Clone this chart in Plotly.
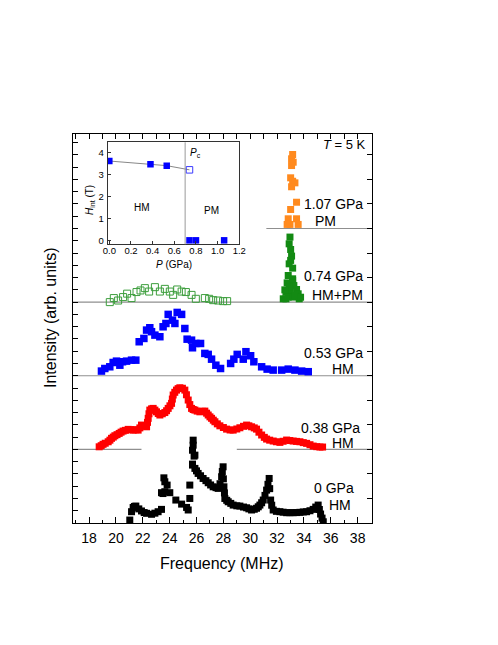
import plotly.graph_objects as go

# ---------------- data ----------------
# 0 GPa, HM (black)
f_0 = [21.03, 21.16, 21.28, 21.38, 21.48, 21.70, 21.90, 22.10, 22.28, 22.65, 22.90, 23.14, 23.39,
       23.39, 23.50, 23.64, 23.64, 23.57, 23.81, 24.01, 24.46, 24.89, 25.26, 25.38, 25.50, 25.50,
       25.70, 25.88, 25.70, 25.75, 25.75, 25.82, 25.70, 25.88, 26.00, 26.12, 26.30, 26.49, 26.70,
       26.87, 27.05, 27.24, 27.45, 27.61, 27.75, 27.87, 27.92, 27.98, 28.00, 28.04, 28.08, 28.11,
       28.25, 28.36, 28.55, 28.73, 29.00, 29.23, 29.50, 29.73, 29.90, 30.10, 30.30, 30.47, 30.60,
       30.72, 30.85, 30.97, 31.10, 31.22, 31.32, 31.41, 31.45, 31.52, 31.60, 31.71, 31.95, 32.21,
       32.45, 32.71, 32.95, 33.20, 33.45, 33.70, 33.95, 34.20, 34.45, 34.69, 34.88, 35.06, 35.15,
       35.24, 35.35, 35.44]
i_0 = [0.24, 0.92, 1.27, 1.35, 1.38, 1.15, 0.98, 0.85, 0.79, 0.71, 0.80, 0.92, 1.11,
       2.47, 2.40, 2.55, 3.36, 3.68, 3.09, 2.47, 1.87, 1.54, 1.27, 1.06, 2.00, 3.09,
       4.72, 5.53, 5.93, 6.34, 6.75, 5.45, 4.80, 4.45, 4.25, 4.04, 3.85, 3.63, 3.45,
       3.28, 3.10, 2.95, 2.88, 2.82, 3.20, 3.77, 4.20, 4.58, 3.60, 2.95, 2.45, 2.00,
       1.85, 1.73, 1.60, 1.46, 1.40, 1.38, 1.30, 1.24, 1.15, 1.06, 1.12, 1.20, 1.32,
       1.46, 1.65, 1.87, 2.25, 2.68, 3.15, 3.63, 2.80, 1.87, 1.45, 1.06, 0.95, 0.92,
       0.88, 0.84, 0.84, 0.84, 0.85, 0.87, 0.90, 0.92, 1.00, 1.11, 1.30, 1.46, 1.10,
       0.73, 0.40, 0.10]

# 0.38 GPa, HM (red)
f_038 = [18.75, 18.90, 19.04, 19.20, 19.42, 19.55, 19.67, 19.80, 19.92, 20.08, 20.24, 20.38, 20.53,
         20.70, 20.91, 21.10, 21.28, 21.45, 21.65, 21.78, 21.90, 22.05, 22.28, 22.35, 22.40, 22.46,
         22.52, 22.65, 22.77, 22.90, 23.02, 23.15, 23.27, 23.45, 23.64, 23.77, 23.89, 24.02, 24.14,
         24.20, 24.26, 24.38, 24.51, 24.63, 24.76, 24.95, 25.13, 25.25, 25.38, 25.50, 25.63, 25.75,
         25.88, 26.05, 26.25, 26.45, 26.62, 26.75, 26.87, 27.00, 27.12, 27.25, 27.37, 27.55, 27.74,
         28.00, 28.24, 28.50, 28.73, 29.00, 29.23, 29.50, 29.73, 29.90, 30.10, 30.30, 30.47, 30.65,
         30.85, 31.05, 31.22, 31.45, 31.71, 31.95, 32.21, 32.45, 32.71, 32.95, 33.20, 33.45, 33.70,
         33.95, 34.20, 34.45, 34.69, 34.95, 35.19, 35.39]
i_038 = [0.21, 0.30, 0.41, 0.50, 0.62, 0.75, 0.90, 1.00, 1.11, 1.20, 1.30, 1.40, 1.49,
         1.55, 1.63, 1.60, 1.57, 1.60, 1.57, 1.75, 1.98, 1.90, 1.84, 2.20, 2.53, 2.90,
         3.20, 3.30, 3.34, 3.20, 3.06, 2.92, 2.80, 2.90, 3.00, 3.15, 3.34, 3.55, 3.75,
         4.10, 4.43, 4.65, 4.83, 4.95, 5.02, 4.98, 4.83, 4.45, 4.02, 3.65, 3.34, 3.25,
         3.20, 3.12, 3.06, 3.10, 3.12, 2.95, 2.80, 2.65, 2.53, 2.38, 2.25, 2.08, 1.92,
         1.78, 1.65, 1.58, 1.57, 1.66, 1.76, 1.88, 1.98, 1.92, 1.84, 1.75, 1.65, 1.40,
         1.17, 0.98, 0.84, 0.75, 0.68, 0.62, 0.57, 0.66, 0.76, 0.72, 0.68, 0.65, 0.62,
         0.55, 0.49, 0.38, 0.27, 0.22, 0.19, 0.19]

# 0.53 GPa, HM (blue)
f_053 = [18.92, 19.17, 19.54, 19.79, 20.04, 20.29, 20.49, 20.79, 21.16, 21.48, 21.73, 22.08, 22.28,
         22.52, 22.65, 22.90, 23.27, 23.51, 23.72, 23.89, 24.21, 24.39, 24.56, 24.89, 25.13, 25.30,
         25.63, 25.70, 25.95, 26.30, 26.62, 26.87, 27.12, 27.44, 27.79, 28.54, 28.78, 29.03, 29.48,
         29.68, 30.03, 30.27, 30.85, 31.26, 31.71, 32.34, 32.83, 33.33, 33.83, 34.32]
i_053 = [0.38, 0.59, 0.73, 1.08, 1.19, 0.86, 1.14, 1.19, 1.27, 1.27, 2.77, 3.04, 3.72,
         3.91, 3.59, 3.31, 3.18, 3.99, 4.26, 5.00, 4.53, 4.26, 5.16, 5.00, 3.85, 2.98,
         2.90, 2.28, 2.63, 2.63, 1.82, 1.74, 1.35, 0.86, 0.59, 1.00, 1.35, 1.74, 1.35,
         1.96, 1.63, 1.14, 0.73, 0.54, 0.46, 0.46, 0.54, 0.46, 0.38, 0.33]

# 0.74 GPa, HM part (open green) and PM part (filled green)
f_074hm = [19.54, 19.84, 20.16, 20.53, 20.83, 21.16, 21.53, 21.83, 22.15, 22.47, 22.90, 23.27, 23.64,
           24.01, 24.26, 24.56, 24.89, 25.21, 25.63, 25.95, 26.62, 26.94, 27.24, 27.61, 27.98, 28.28]
i_074hm = [0.00, 0.33, 0.13, 0.41, 0.69, 0.33, 0.82, 0.95, 1.14, 0.86, 1.22, 0.86, 1.08,
           0.86, 0.59, 1.03, 0.86, 0.82, 0.59, 0.27, 0.33, 0.27, 0.16, 0.13, 0.08, 0.08]
f_074pm = [32.96, 32.90, 33.01, 33.08, 32.90, 33.16, 32.83, 33.16, 32.75, 33.25, 33.45, 32.66,
           32.96, 32.46, 32.83, 33.20, 33.65, 33.57, 33.01, 33.16, 32.90, 32.58, 33.33, 33.75, 32.66]
i_074pm = [5.30, 4.75, 4.29, 3.75, 3.12, 2.77, 2.17, 1.76, 1.57, 1.35, 1.03, 0.82,
           0.82, 0.27, 0.41, 0.41, 0.27, 0.68, 3.40, 1.90, 1.22, 1.00, 0.54, 0.40, 0.27]

# 1.07 GPa, PM (orange)
f_107 = [33.16, 33.08, 33.20, 33.08, 33.01, 33.16, 33.33, 33.08, 33.45, 33.01, 32.83, 32.96,
         32.75, 33.45, 33.57]
i_107 = [6.03, 5.68, 5.40, 5.13, 4.13, 3.85, 3.72, 3.40, 2.14, 1.55, 0.79, 0.33,
         0.33, 0.79, 0.33]

# vertical offsets of the stacked spectra
offsets = {"0": 0, "0.38": 6, "0.53": 12, "0.74": 18, "1.07": 24}

# inset: internal field vs pressure
p_hm = [0.00, 0.38, 0.53]
h_hm = [3.60, 3.45, 3.39]
p_hm_open = [0.74]
h_hm_open = [3.20]
p_pm = [0.74, 0.80, 1.06]
h_pm = [0.0, 0.0, 0.0]
p_c = 0.70

x_ticks = list(range(18, 39, 2))

# ---------------- layout helpers ----------------
# page coordinates of the main plot frame; the html body adds an 8px margin
OFF = 8
L, R, T, B = 73, 372, 134, 523
W, H = 498 - OFF, 645 - OFF
def pxx(x):
    return (x - L) / (R - L)
def pxy(y):
    return (B - y) / (B - T)

FONT = "Liberation Sans, Arial, Helvetica, sans-serif"
XR = [16.8, 39.07]
YR = [0, 31.7]

fig = go.Figure()

def shifted(vals, key):
    return [v + offsets[key] for v in vals]

# baselines (gray)
base_col = "#8f8f8f"
baselines = [
    (XR[0], 21.9, "0.38"), (29.0, XR[1], "0.38"),
    (XR[0], XR[1], "0.53"), (XR[0], XR[1], "0.74"), (31.2, XR[1], "1.07"),
]
for x0, x1, key in baselines:
    fig.add_shape(type="line", xref="x", yref="y", x0=x0, x1=x1,
                  y0=offsets[key], y1=offsets[key],
                  line=dict(color=base_col, width=1.2), layer="below")

ms = 7
fig.add_trace(go.Scatter(x=f_0, y=shifted(i_0, "0"), mode="markers",
                         marker=dict(symbol="square", size=ms, color="black", line=dict(width=0))))
fig.add_trace(go.Scatter(x=f_038, y=shifted(i_038, "0.38"), mode="markers",
                         marker=dict(symbol="square", size=ms, color="#ff0000", line=dict(width=0))))
fig.add_trace(go.Scatter(x=f_053, y=shifted(i_053, "0.53"), mode="markers",
                         marker=dict(symbol="square", size=7.5, color="#0000ff", line=dict(width=0))))
fig.add_trace(go.Scatter(x=f_074hm, y=shifted(i_074hm, "0.74"), mode="markers",
                         marker=dict(symbol="square-open", size=7, color="#3d9e3d", line=dict(width=1))))
fig.add_trace(go.Scatter(x=f_074pm, y=shifted(i_074pm, "0.74"), mode="markers",
                         marker=dict(symbol="square", size=ms, color="#138a13", line=dict(width=0))))
fig.add_trace(go.Scatter(x=f_107, y=shifted(i_107, "1.07"), mode="markers",
                         marker=dict(symbol="square", size=ms, color="#ff8a1e", line=dict(width=0))))

# dummy trace for overlay axes (top x / right y)
fig.add_trace(go.Scatter(x=[None], y=[None], xaxis="x2", yaxis="y2", mode="markers",
                         hoverinfo="skip"))

# inset traces
fig.add_trace(go.Scatter(x=p_hm + p_hm_open, y=h_hm + h_hm_open, mode="lines",
                         xaxis="x3", yaxis="y3", line=dict(color="#888888", width=1)))
fig.add_trace(go.Scatter(x=p_hm, y=h_hm, mode="markers", xaxis="x3", yaxis="y3",
                         marker=dict(symbol="square", size=6.5, color="#0000ff", line=dict(width=0))))
fig.add_trace(go.Scatter(x=p_hm_open, y=h_hm_open, mode="markers", xaxis="x3", yaxis="y3",
                         marker=dict(symbol="square-open", size=6.5, color="#3a3aff", line=dict(width=1))))
fig.add_trace(go.Scatter(x=p_pm, y=h_pm, mode="markers", xaxis="x3", yaxis="y3",
                         marker=dict(symbol="square", size=6.5, color="#0000ff", line=dict(width=0)),
                         cliponaxis=False))
fig.add_shape(type="line", xref="x3", yref="y3 domain", x0=p_c, x1=p_c, y0=0, y1=1,
              line=dict(color="#999999", width=1))

axis_common = dict(showgrid=False, zeroline=False, showline=True, linecolor="black",
                   linewidth=1.3, ticks="inside", tickcolor="black", tickwidth=1)

fig.update_layout(
    width=W, height=H,
    margin=dict(l=L - OFF, r=W - (R - OFF), t=T - OFF, b=H - (B - OFF), pad=0),
    paper_bgcolor="white", plot_bgcolor="white",
    showlegend=False,
    font=dict(family=FONT, color="black", size=14),
    xaxis=dict(range=XR, tickvals=x_ticks, ticklen=6, minor=dict(dtick=1, ticklen=3, ticks="inside",
               tickcolor="black"), tickfont=dict(size=14), ticklabelstandoff=2, **axis_common),
    xaxis2=dict(range=XR, overlaying="x", side="top", anchor="y", dtick=1, ticklen=5,
                showticklabels=False, **axis_common),
    yaxis=dict(range=YR, dtick=1, tick0=0, ticklen=5, showticklabels=False, **axis_common),
    yaxis2=dict(range=YR, overlaying="y", side="right", anchor="x", dtick=2, tick0=0, ticklen=5,
                showticklabels=False, **axis_common),
    xaxis3=dict(domain=[pxx(107.7), pxx(239.3)], anchor="y3", range=[-0.015, 1.2], dtick=0.2,
                tickformat=".1f", ticklen=3, mirror=True, tickfont=dict(size=9.5),
                showgrid=False, zeroline=False, showline=True, linecolor="#333333", linewidth=0.8,
                ticks="inside", tickcolor="#333333", ticklabelstandoff=-3),
    yaxis3=dict(domain=[pxy(244.3), pxy(142.3)], anchor="x3", range=[-0.18, 4.45], dtick=1,
                ticklen=3, mirror=True, tickfont=dict(size=9.5),
                showgrid=False, zeroline=False, showline=True, linecolor="#333333", linewidth=0.8,
                ticks="inside", tickcolor="#333333", ticklabelstandoff=1),
)

def ann(text, x, y, xanchor="center", size=14, angle=0):
    fig.add_annotation(text=text, xref="paper", yref="paper", x=pxx(x), y=pxy(y),
                       xanchor=xanchor, yanchor="middle", showarrow=False, textangle=angle,
                       font=dict(family=FONT, size=size, color="black"))

ann("Frequency (MHz)", 222, 563, size=16)
ann("Intensity (arb. units)", 50, 318, size=16, angle=-90)
ann("<i>T</i> = 5 K", 368, 145, xanchor="right", size=13)
ann("1.07 GPa", 365, 203.5, xanchor="right")
ann("PM", 325, 221)
ann("0.74 GPa", 365, 276, xanchor="right")
ann("HM+PM", 365, 294.5, xanchor="right")
ann("0.53 GPa", 364.5, 353, xanchor="right")
ann("HM", 343, 369)
ann("0.38 GPa", 362, 427.5, xanchor="right")
ann("HM", 342.5, 442.5)
ann("0 GPa", 356, 488, xanchor="right")
ann("HM", 340, 505)

# inset texts
ann("<i>P</i><sub>c</sub>", 188, 153, xanchor="left", size=10)
ann("HM", 141.5, 207, size=10)
ann("PM", 211.5, 210, size=10)
ann("<i>H</i><sub>int</sub> (T)", 90, 200, size=10, angle=-90)
ann("<i>P</i> (GPa)", 174, 264, size=10)

fig.write_html("out.html")
